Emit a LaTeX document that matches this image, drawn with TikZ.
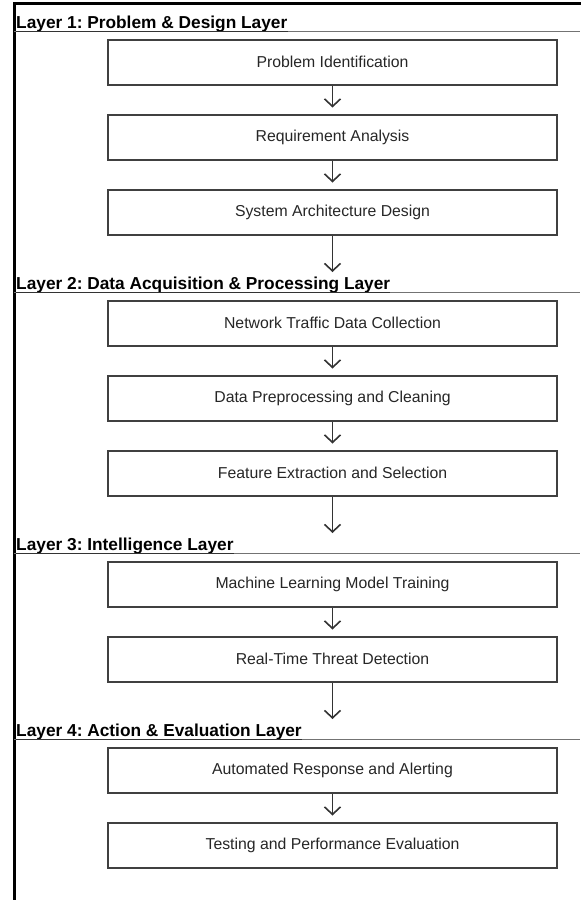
\documentclass[tikz,border=0pt]{standalone}
\usepackage{fontspec}
\setmainfont{Liberation Sans}
\frenchspacing
\usetikzlibrary{arrows.meta}
\tikzstyle{block} = [rectangle, minimum width=449pt, minimum height=45pt, text centered, draw=black!75, line width=2pt, text=black!85, font=\fontsize{15.8}{19}\selectfont]
\tikzstyle{arrow} = [line width=1.6pt, draw=black!80, -{Straight Barb[length=7.5pt,width=16pt]}, shorten >=6pt]
\tikzstyle{layerhead} = [inner sep=0pt, anchor=base west, font=\fontsize{17.3}{20}\selectfont\bfseries]
\tikzstyle{layerline} = [line width=1.3pt, draw=black!55]
\tikzstyle{uline} = [line width=1.4pt, draw=black!80]
\tikzstyle{frame} = [line width=3pt, draw=black]

\begin{document}
\begin{tikzpicture}[node distance=75pt]
        \useasboundingbox (0,0) rectangle (581pt,-900pt);
        % outer frame (top and left only)
        \draw [frame] (14pt,-900pt) -- (14pt,-3pt) -- (581pt,-3pt);
        % layer 1
        \node (prob) [block] at (332.5pt,-62pt) {Problem Identification};
        \node (req) [block, below of=prob] {Requirement Analysis};
        \node (arch) [block, below of=req] {System Architecture Design};
        % layer 2
        \node (net) [block, below of=arch, yshift=-36pt] {Network Traffic Data Collection};
        \node (prep) [block, below of=net] {Data Preprocessing and Cleaning};
        \node (feat) [block, below of=prep] {Feature Extraction and Selection};
        % layer 3
        \node (train) [block, below of=feat, yshift=-36pt] {Machine Learning Model Training};
        \node (detect) [block, below of=train] {Real-Time Threat Detection};
        % layer 4
        \node (resp) [block, below of=detect, yshift=-36pt] {Automated Response and Alerting};
        \node (eval) [block, below of=resp] {Testing and Performance Evaluation};
        % layer headings
        \node (lay1) [layerhead] at ([xshift=-91pt,yshift=10.5pt]prob.north west) {Layer 1: Problem \& Design Layer};
        \node (lay2) [layerhead] at ([xshift=-91pt,yshift=10.5pt]net.north west) {Layer 2: Data Acquisition \& Processing Layer};
        \node (lay3) [layerhead] at ([xshift=-91pt,yshift=10.5pt]train.north west) {Layer 3: Intelligence Layer};
        \node (lay4) [layerhead] at ([xshift=-91pt,yshift=10.5pt]resp.north west) {Layer 4: Action \& Evaluation Layer};
        \foreach \l in {lay1,lay2,lay3,lay4} {
            \draw [layerline] ([yshift=-3.5pt]\l.base west) ++(-2pt,0) -- ++(566pt,0);
            \draw [uline] ([yshift=-3.5pt]\l.base west) -- ([yshift=-3.5pt]\l.base east);
        }
        % arrows
        \draw [arrow] (prob.south) -- (req.north);
        \draw [arrow] (req.south) -- (arch.north);
        \draw [arrow, shorten >=17pt] (arch.south) -- (arch.south |- lay2.base);
        \draw [arrow] (net.south) -- (prep.north);
        \draw [arrow] (prep.south) -- (feat.north);
        \draw [arrow, shorten >=17pt] (feat.south) -- (feat.south |- lay3.base);
        \draw [arrow] (train.south) -- (detect.north);
        \draw [arrow, shorten >=17pt] (detect.south) -- (detect.south |- lay4.base);
        \draw [arrow] (resp.south) -- (eval.north);
    \end{tikzpicture}
\end{document}
